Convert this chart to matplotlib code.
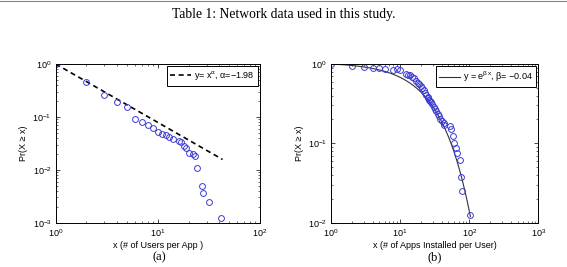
import matplotlib.pyplot as plt
import numpy as np

# (a) users per app
users_x = [1, 2, 3, 4, 5, 6, 7, 8, 9, 10, 11, 12, 13, 14, 16, 17, 18, 19, 20, 22, 23, 24, 27, 28, 32, 42]
users_y = [1.0, 0.45, 0.256, 0.189, 0.154, 0.092, 0.080, 0.070, 0.0625, 0.052, 0.0475, 0.045, 0.0417,
           0.0377, 0.0346, 0.0336, 0.0282, 0.0255, 0.021, 0.0196, 0.0185, 0.0108, 0.0049, 0.0037,
           0.00246, 0.00123]
power_x = [1, 43]
power_y = [1.0, 0.0157]

# (b) apps installed per user
apps_x = [1, 2, 3, 4, 5, 6, 8, 9, 10, 12, 13, 14, 15, 16, 17, 18, 19, 20, 21, 22, 23, 24, 25,
          25.3, 26.5, 27.4, 28.3, 29.2, 30.6, 32, 33.4, 35, 36.5, 38.2, 40.4, 42.7, 43.2,
          52.7, 54, 58.9, 60.9, 63.8, 65.9, 72.8, 76.9, 78.7, 102.7]
apps_y = [1.0, 0.952, 0.925, 0.899, 0.882, 0.873, 0.849, 0.857, 0.84, 0.748, 0.733, 0.72, 0.69,
          0.659, 0.61, 0.58, 0.555, 0.528, 0.498, 0.47, 0.435, 0.407, 0.387, 0.369, 0.352, 0.342,
          0.332, 0.313, 0.29, 0.271, 0.253, 0.234, 0.219, 0.205, 0.193, 0.182, 0.172, 0.164,
          0.150, 0.125, 0.102, 0.088, 0.075, 0.0617, 0.0373, 0.0253, 0.0124]
beta = -0.043
exp_x = np.linspace(1, 104, 200)
exp_y = np.exp(beta * (exp_x - 1))

plt.rcParams['font.family'] = ['Liberation Sans', 'DejaVu Sans']
plt.rcParams['mathtext.fontset'] = 'custom'
plt.rcParams['mathtext.rm'] = 'Liberation Sans'
plt.rcParams['mathtext.it'] = 'Liberation Sans'

fig = plt.figure(figsize=(5.67, 2.67), dpi=100)
fs = 6.5

fig.text(0.5, 0.944, 'Table 1: Network data used in this study.', ha='center', va='center',
         family='Liberation Serif', fontsize=9.8)
fig.add_artist(plt.Line2D([0, 1], [0.998, 0.998], color='#888888', lw=0.8))

ax1 = fig.add_axes([0.0982, 0.1659, 0.3603, 0.5944])
ax2 = fig.add_axes([0.5838, 0.1659, 0.3656, 0.5944])

ax1.plot(power_x, power_y, '--', color='black', lw=1.2, dashes=(3, 2.2),
         label=r'y= x$^{\alpha}$, $\alpha$=$-$1.98')
ax1.plot(users_x, users_y, 'o', mfc='none', mec='#3a3ad6', ms=4.2, mew=0.7)
ax1.set_xlim(1, 100)
ax1.set_ylim(1e-3, 1)
ax1.set_xlabel('x (# of Users per App )', fontsize=fs, labelpad=1)
ax1.set_ylabel('Pr(X ≥ x)', fontsize=fs, labelpad=3)

ax2.plot(exp_x, exp_y, '-', color='#333333', lw=0.8,
         label=r'y = e$^{\beta\,\mathrm{x}}$, $\beta$= $-$0.04')
ax2.plot(apps_x, apps_y, 'o', mfc='none', mec='#3a3ad6', ms=4.2, mew=0.7)
ax2.set_xlim(1, 1000)
ax2.set_ylim(1e-2, 1)
ax2.set_xlabel('x (# of Apps Installed per User)', fontsize=fs, labelpad=1)
ax2.set_ylabel('Pr(X ≥ x)', fontsize=fs, labelpad=3)

for ax in (ax1, ax2):
    ax.set_xscale('log')
    ax.set_yscale('log')
    ax.tick_params(which='both', direction='in', top=True, right=True, labelsize=fs)
    ax.tick_params(axis='x', pad=3.5)
    ax.tick_params(axis='y', pad=3)
    ax.tick_params(which='major', length=3, width=0.5)
    ax.tick_params(which='minor', length=1.6, width=0.4)
    for s in ax.spines.values():
        s.set_linewidth(0.7)
    leg = ax.legend(loc='upper right', fontsize=fs, handlelength=2.3, handletextpad=0.3,
                    borderpad=0.35, fancybox=False, framealpha=1, borderaxespad=0.25)
    leg.get_frame().set_edgecolor('black')
    leg.get_frame().set_linewidth(0.7)

fig.text(0.2805, 0.038, '(a)', ha='center', va='center', family='Liberation Serif', fontsize=9)
fig.text(0.767, 0.038, '(b)', ha='center', va='center', family='Liberation Serif', fontsize=9)

fig.savefig('out.png', dpi=100)
